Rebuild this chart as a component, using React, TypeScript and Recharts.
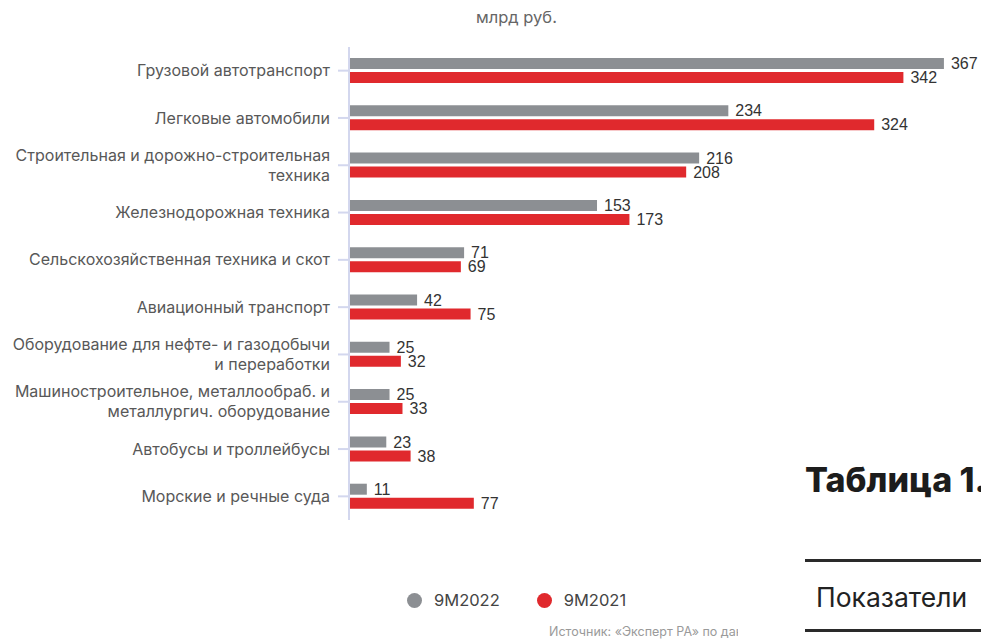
import { FC } from "react";
import { BarChart, Bar, XAxis, YAxis, LabelList } from "recharts";

const categories = [
  "Грузовой автотранспорт",
  "Легковые автомобили",
  "Строительная и дорожно-строительная\nтехника",
  "Железнодорожная техника",
  "Сельскохозяйственная техника и скот",
  "Авиационный транспорт",
  "Оборудование для нефте- и газодобычи\nи переработки",
  "Машиностроительное, металлообраб. и\nметаллургич. оборудование",
  "Автобусы и троллейбусы",
  "Морские и речные суда",
];
const y2022 = [367, 234, 216, 153, 71, 42, 25, 25, 23, 11];
const y2021 = [342, 324, 208, 173, 69, 75, 32, 33, 38, 77];
const seriesNames = ["9М2022", "9М2021"];

const data = categories.map((name, i) => ({
  name,
  y2022: y2022[i],
  y2021: y2021[i],
}));

const GRAY = "#8c8f93";
const RED = "#e0292d";
const AXIS = "#d3d7ee";

const CategoryTick = (props: any) => {
  const { x, y, payload } = props;
  const lines = String(payload.value).split("\n");
  const lh = 20;
  const start = y - ((lines.length - 1) * lh) / 2;
  return (
    <text
      textAnchor="end"
      fill="#585858"
      fontSize={16}
      fontFamily="Inter, sans-serif"
    >
      {lines.map((l, i) => (
        <tspan key={i} x={x} y={start + i * lh} dy="0.35em">
          {l}
        </tspan>
      ))}
    </text>
  );
};

const dot = (c: string) => (
  <span
    style={{
      width: 15,
      height: 15,
      borderRadius: "50%",
      background: c,
      display: "inline-block",
    }}
  />
);

const App: FC = () => {
  return (
    <div
      style={{
        position: "fixed",
        left: 0,
        top: 0,
        width: 981,
        height: 640,
        overflow: "hidden",
        background: "#fff",
      }}
    >
      <div
        style={{
          position: "absolute",
          left: 476,
          top: 7,
          fontFamily: "Inter, sans-serif",
          fontSize: 16.5,
          color: "#666",
          whiteSpace: "nowrap",
        }}
      >
        млрд руб.
      </div>
      <BarChart
        width={981}
        height={640}
        data={data}
        layout="vertical"
        margin={{ top: 47, right: 16, bottom: 120, left: 0 }}
        barSize={11}
        barGap={3}
      >
        <XAxis type="number" domain={[0, 380]} hide />
        <YAxis
          type="category"
          dataKey="name"
          width={349}
          tickSize={11}
          tickMargin={8}
          axisLine={{ stroke: AXIS, strokeWidth: 2 }}
          tickLine={{ stroke: AXIS, strokeWidth: 2 }}
          tick={<CategoryTick />}
          interval={0}
        />
        <Bar dataKey="y2022" name={seriesNames[0]} fill={GRAY} isAnimationActive={false}>
          <LabelList
            dataKey="y2022"
            position="right"
            offset={7}
            fill="#333"
            fontSize={16}
            fontFamily="'Liberation Sans', Arial, sans-serif"
          />
        </Bar>
        <Bar dataKey="y2021" name={seriesNames[1]} fill={RED} isAnimationActive={false}>
          <LabelList
            dataKey="y2021"
            position="right"
            offset={7}
            fill="#333"
            fontSize={16}
            fontFamily="'Liberation Sans', Arial, sans-serif"
          />
        </Bar>
      </BarChart>
      <div
        style={{
          position: "absolute",
          left: 407,
          top: 590,
          display: "flex",
          alignItems: "center",
          fontFamily: "Inter, sans-serif",
          fontSize: 16.5,
          color: "#444",
        }}
      >
        {dot(GRAY)}
        <span style={{ marginLeft: 12, marginRight: 37 }}>{seriesNames[0]}</span>
        {dot(RED)}
        <span style={{ marginLeft: 12 }}>{seriesNames[1]}</span>
      </div>
      <div
        style={{
          position: "absolute",
          left: 805,
          top: 459,
          fontFamily: "Inter, sans-serif",
          fontWeight: 800,
          fontSize: 34,
          color: "#1c1c1c",
          whiteSpace: "nowrap",
        }}
      >
        Таблица 1.
      </div>
      <div style={{ position: "absolute", left: 805, top: 559, width: 200, height: 3, background: "#2a2a2a" }} />
      <div
        style={{
          position: "absolute",
          left: 816,
          top: 581,
          fontFamily: "Inter, sans-serif",
          fontSize: 26.5,
          color: "#222",
          whiteSpace: "nowrap",
        }}
      >
        Показатели
      </div>
      <div style={{ position: "absolute", left: 805, top: 629, width: 200, height: 3, background: "#2a2a2a" }} />
      <div
        style={{
          position: "absolute",
          left: 549,
          top: 624,
          width: 189,
          overflow: "hidden",
          whiteSpace: "nowrap",
          fontFamily: "Inter, sans-serif",
          fontSize: 12.5,
          color: "#9a9a9a",
        }}
      >
        Источник: «Эксперт РА» по данным компаний
      </div>
    </div>
  );
};

export default App;
